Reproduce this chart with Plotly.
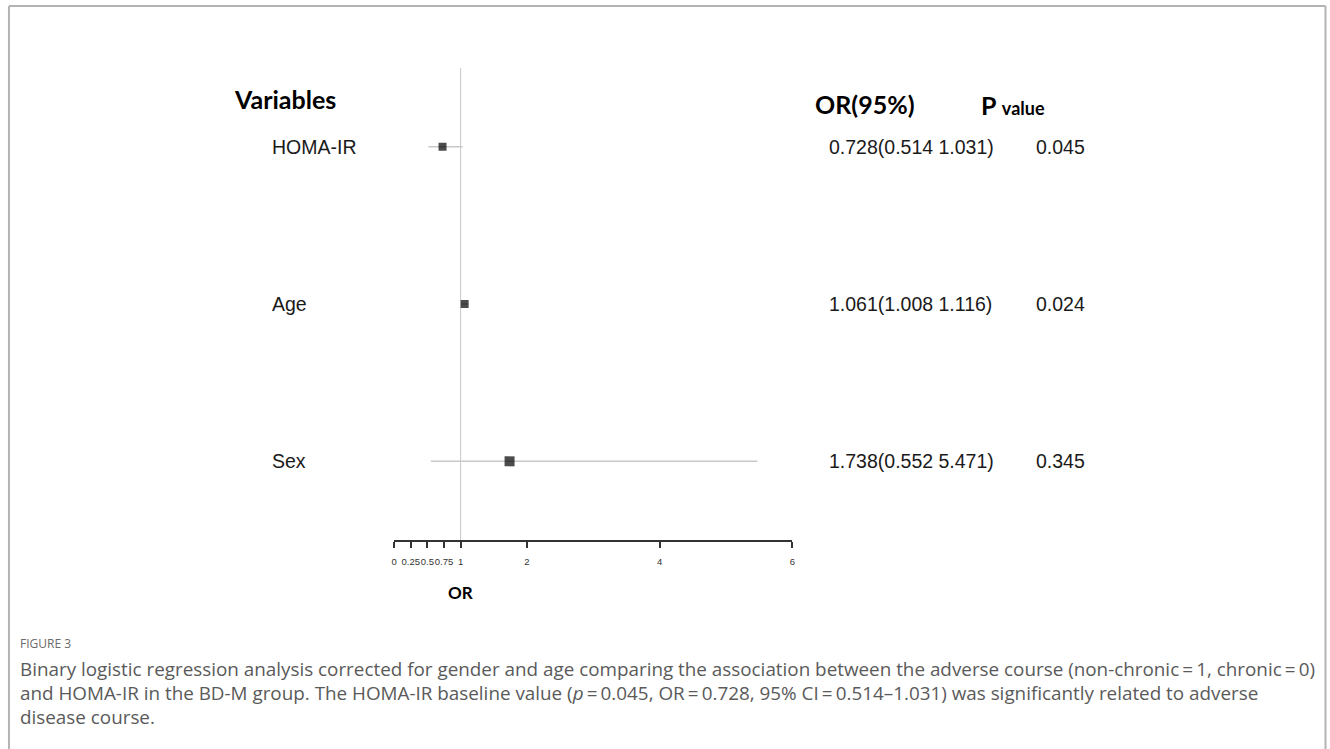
import plotly.graph_objects as go

# ---- data ----
variables = ["HOMA-IR", "Age", "Sex"]
or_vals = [0.728, 1.061, 1.738]
ci_low = [0.514, 1.008, 0.552]
ci_high = [1.031, 1.116, 5.471]
or_text = ["0.728(0.514 1.031)", "1.061(1.008 1.116)", "1.738(0.552 5.471)"]
p_vals = ["0.045", "0.024", "0.345"]
tick_vals = [0, 0.25, 0.5, 0.75, 1, 2, 4, 6]
tick_text = ["0", "0.25", "0.5", "0.75", "1", "2", "4", "6"]

caption_lines = [
    "Binary logistic regression analysis corrected for gender and age comparing the association between the adverse course (non-chronic\u2009=\u20091, chronic\u2009=\u20090)",
    "and HOMA-IR in the BD-M group. The HOMA-IR baseline value (<i>p</i>\u2009=\u20090.045, OR\u2009=\u20090.728, 95% CI\u2009=\u20090.514\u20131.031) was significantly related to adverse",
    "disease course.",
]

W, H = 1330, 749
def px(x):
    return x / W
def py(y):
    return 1 - y / H

fig = go.Figure()

fig.add_trace(go.Scatter(
    x=or_vals, y=variables, mode="markers",
    marker=dict(symbol="square", color="black", size=[8, 8, 10], line=dict(width=0)),
    error_x=dict(type="data", symmetric=False,
                 array=[h - o for h, o in zip(ci_high, or_vals)],
                 arrayminus=[o - l for o, l in zip(or_vals, ci_low)],
                 color="#c8c8c8", thickness=1.5, width=0),
    showlegend=False, hoverinfo="skip",
))

fig.add_shape(type="line", xref="x", yref="y domain", x0=1, x1=1, y0=0, y1=1,
              line=dict(color="#c8c8c8", width=1), layer="below")

# border (left, top, right)
bc = dict(color="#b4b4b4", width=2)
fig.add_shape(type="line", xref="paper", yref="paper", x0=px(6), x1=px(6), y0=py(6), y1=py(760), line=bc)
fig.add_shape(type="line", xref="paper", yref="paper", x0=px(6), x1=px(1328.5), y0=py(6), y1=py(6), line=bc)
fig.add_shape(type="line", xref="paper", yref="paper", x0=px(1328.5), x1=px(1328.5), y0=py(6), y1=py(760), line=bc)

ann = []
lab_font = dict(family="Liberation Sans, Arial", size=19.5, color="#1a1a1a")
for v, t, p in zip(variables, or_text, p_vals):
    ann.append(dict(x=px(268), xref="paper", y=v, yref="y", text=v, showarrow=False,
                    xanchor="left", yanchor="middle", font=lab_font))
    ann.append(dict(x=px(828), xref="paper", y=v, yref="y", text=t, showarrow=False,
                    xanchor="left", yanchor="middle", font=lab_font))
    ann.append(dict(x=px(1036), xref="paper", y=v, yref="y", text=p, showarrow=False,
                    xanchor="left", yanchor="middle", font=lab_font))

hdr = dict(family="Lato, Open Sans", size=25, color="black")
ann.append(dict(x=px(230), y=py(99), xref="paper", yref="paper", text="<b>Variables</b>",
                showarrow=False, xanchor="left", yanchor="middle", font=hdr))
ann.append(dict(x=px(814), y=py(104), xref="paper", yref="paper", text="<b>OR(95%)</b>",
                showarrow=False, xanchor="left", yanchor="middle", font=hdr))
ann.append(dict(x=px(980), y=py(105), xref="paper", yref="paper",
                text="<b>P <span style='font-size:18px'>value</span></b>",
                showarrow=False, xanchor="left", yanchor="middle", font=hdr))
ann.append(dict(x=px(460), y=py(592), xref="paper", yref="paper", text="<b>OR</b>",
                showarrow=False, xanchor="center", yanchor="middle",
                font=dict(family="Lato, Open Sans", size=17, color="black")))

cap_font = dict(family="Open Sans", size=18.85, color="#5a5a5a")
ann.append(dict(x=px(15), y=py(643), xref="paper", yref="paper", text="FIGURE 3",
                showarrow=False, xanchor="left", yanchor="middle",
                font=dict(family="Open Sans", size=12, color="#6a6a6a")))
for i, line in enumerate(caption_lines):
    ann.append(dict(x=px(15), y=py(669 + 24 * i), xref="paper", yref="paper", text=line,
                    showarrow=False, xanchor="left", yanchor="middle", font=cap_font))

fig.update_layout(
    width=W, height=H,
    margin=dict(l=0, r=0, t=0, b=0),
    paper_bgcolor="white", plot_bgcolor="white",
    annotations=ann,
    xaxis=dict(domain=[px(393), px(793)], range=[0, 6], showgrid=False, zeroline=False,
               showline=True, linecolor="#333333", linewidth=1.5,
               ticks="outside", ticklen=6, tickcolor="#333333", tickwidth=1.5,
               tickvals=tick_vals, ticktext=tick_text, tickangle=0,
               ticklabelstandoff=6,
               tickfont=dict(family="Liberation Sans, Arial", size=9.5, color="#333333")),
    yaxis=dict(domain=[py(540), py(68)], type="category", categoryarray=variables,
               range=[2.5, -0.5], showgrid=False, zeroline=False, showline=False,
               showticklabels=False, ticks=""),
)

fig.write_html("out.html", config={"displayModeBar": False},
               post_script="document.body.style.margin='0';document.body.style.padding='0';")
